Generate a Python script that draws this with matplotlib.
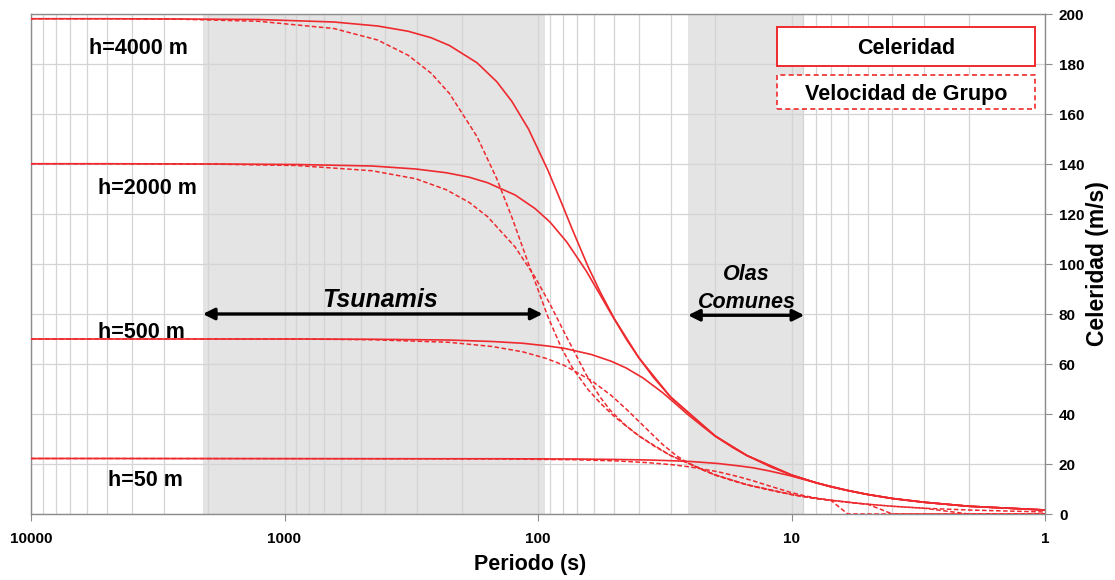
import matplotlib
matplotlib.use('Agg')
import matplotlib.pyplot as plt
from matplotlib.patches import Rectangle
from matplotlib.ticker import FixedLocator, NullFormatter

plt.rcParams['font.family'] = ['Liberation Sans', 'DejaVu Sans']
plt.rcParams['font.weight'] = 'bold'

# periodo (s), celeridad y velocidad de grupo (m/s) para cada profundidad
T_4000 = [10000, 5000, 2538, 1271, 638.6, 429.2, 325.4, 263.9, 223.5, 174.1, 145.4, 126.9, 108.9, 91.4,
          80.8, 73.4, 63.5, 56.7, 50, 40, 30, 20, 15, 10, 9, 8, 7, 6, 5, 4, 3, 2, 1]
C_4000 = [198.1, 198.1, 198.0, 197.8, 196.8, 195.2, 193.1, 190.5, 187.4, 180.5, 172.9, 165.1, 153.9, 137.5,
          124.5, 114.1, 99.0, 88.6, 78.1, 62.5, 46.8, 31.2, 23.4, 15.6, 14.1, 12.5, 10.9, 9.4, 7.8, 6.2, 4.7, 3.1, 1.6]
G_4000 = [198.1, 198.1, 197.9, 197.1, 194.2, 189.6, 183.5, 176.3, 168.2, 151.0, 134.1, 118.8, 100.0, 78.9,
          66.4, 58.7, 49.8, 44.3, 39.0, 31.2, 23.4, 15.6, 11.7, 7.8, 7.0, 6.2, 5.5, 0, 0, 0, 0, 0, 0]

T_2000 = [10000, 5000, 1795, 898.6, 451.5, 303.5, 230.1, 186.6, 158.0, 123.1, 102.8, 89.7, 77.0, 64.6,
          57.1, 51.9, 44.9, 40.1, 35, 30, 20, 15, 10, 8, 7, 6, 5, 4, 3, 2, 1]
C_2000 = [140.1, 140.1, 140.0, 139.8, 139.2, 138.0, 136.5, 134.7, 132.5, 127.6, 122.2, 116.8, 108.8, 97.3,
          88.0, 80.7, 70.0, 62.6, 54.6, 46.8, 31.2, 23.4, 15.6, 12.5, 10.9, 9.4, 7.8, 6.2, 4.7, 3.1, 1.6]
G_2000 = [140.1, 140.1, 139.9, 139.4, 137.3, 134.1, 129.7, 124.6, 118.9, 106.8, 94.8, 84.0, 70.7, 55.8,
          47.0, 41.5, 35.2, 31.4, 27.3, 23.4, 15.6, 11.7, 7.8, 6.2, 5.5, 4.7, 3.9, 0, 0, 0, 0]

T_500 = [10000, 5000, 897.5, 449.3, 225.8, 151.7, 115.1, 93.3, 79.0, 61.6, 51.4, 44.9, 38.5, 32.3,
         28.6, 26.0, 22.4, 20.1, 17, 15, 12, 10, 8, 6, 5, 4, 3, 2, 1]
C_500 = [70.0, 70.0, 70.0, 69.9, 69.6, 69.0, 68.3, 67.3, 66.3, 63.8, 61.1, 58.4, 54.4, 48.6,
         44.0, 40.3, 35.0, 31.3, 26.5, 23.4, 18.7, 15.6, 12.5, 9.4, 7.8, 6.2, 4.7, 3.1, 1.6]
G_500 = [70.0, 70.0, 70.0, 69.7, 68.7, 67.0, 64.9, 62.3, 59.5, 53.4, 47.4, 42.0, 35.4, 27.9,
         23.5, 20.8, 17.6, 15.7, 13.3, 11.7, 9.4, 7.8, 6.2, 4.7, 3.9, 3.1, 2.3, 0, 0]

T_50 = [10000, 5000, 283.8, 142.1, 71.4, 48.0, 36.4, 29.5, 25.0, 19.5, 16.3, 14.2, 12.2, 10.2,
        9.0, 8.2, 7.1, 6.3, 5.5, 5, 4, 3, 2, 1]
C_50 = [22.2, 22.2, 22.1, 22.1, 22.0, 21.8, 21.6, 21.3, 21.0, 20.2, 19.3, 18.5, 17.2, 15.4,
        13.9, 12.8, 11.1, 9.9, 8.6, 7.8, 6.2, 4.7, 3.1, 1.6]
G_50 = [22.2, 22.2, 22.1, 22.0, 21.7, 21.2, 20.5, 19.7, 18.8, 16.9, 15.0, 13.3, 11.2, 8.8,
        7.4, 6.6, 5.6, 5.0, 4.3, 3.9, 3.1, 2.3, 1.6, 0.8]

depth_labels = ['h=4000 m', 'h=2000 m', 'h=500 m', 'h=50 m']
series = [(T_4000, C_4000, G_4000), (T_2000, C_2000, G_2000),
          (T_500, C_500, G_500), (T_50, C_50, G_50)]

tsunami_band = (2100, 94)
olas_band = (25.6, 8.9)

fig = plt.figure(figsize=(11.15, 5.8), dpi=100)
ax = fig.add_axes([31 / 1115, 66 / 580, 1014 / 1115, 500 / 580])
ax.set_xscale('log')
ax.set_xlim(10000, 1)
ax.set_ylim(0, 200)

# bandas grises
ax.axvspan(*tsunami_band, color='#e4e4e4', zorder=0.2, lw=0)
ax.axvspan(*olas_band, color='#e4e4e4', zorder=0.2, lw=0)

red = '#ee2a2e'
for T, c, g in series:
    ax.plot(T, c, color=red, lw=1.2, zorder=3)
    ax.plot(T, g, color=red, lw=1.1, ls=(0, (3, 1.6)), zorder=3)

# rejilla
ax.xaxis.set_major_locator(FixedLocator([10000, 1000, 100, 10, 1]))
ax.set_xticklabels(['10000', '1000', '100', '10', '1'])
minors = [m * 10 ** e for e in range(0, 4) for m in range(2, 10)]
ax.xaxis.set_minor_locator(FixedLocator(minors))
ax.xaxis.set_minor_formatter(NullFormatter())
ax.set_yticks(range(0, 201, 20))
ax.set_axisbelow(True)
ax.grid(True, which='both', axis='x', color='#d4d4d4', lw=0.9)
ax.grid(True, which='major', axis='y', color='#d4d4d4', lw=0.9)

ax.yaxis.tick_right()
ax.yaxis.set_label_position('right')
for s in ax.spines.values():
    s.set_color('#8c8c8c')
    s.set_linewidth(1.0)
ax.tick_params(axis='y', which='both', direction='out', length=5, color='#8c8c8c', pad=5, labelsize=11)
ax.tick_params(axis='x', which='major', direction='out', length=5, color='#8c8c8c', pad=8, labelsize=11)
ax.tick_params(axis='x', which='minor', length=0)
for lab in ax.get_xticklabels() + ax.get_yticklabels():
    lab.set_fontweight('bold')

ax.set_xlabel('Periodo (s)', fontsize=15.5, fontweight='bold')
ax.set_ylabel('Celeridad (m/s)', fontsize=16.5, fontweight='bold')
ax.xaxis.set_label_coords(0.492, -0.080)
ax.yaxis.set_label_coords(1.0404, 0.5)

# etiquetas de profundidad
label_pos = [(0.1055, 0.932), (0.1144, 0.650), (0.1085, 0.362), (0.1129, 0.068)]
for txt, (xf, yf) in zip(depth_labels, label_pos):
    ax.text(xf, yf, txt, transform=ax.transAxes, ha='center', va='center',
            fontsize=15.5, fontweight='bold', zorder=5)

# flechas
arrow = dict(arrowstyle='<|-|>', color='black', lw=2.4, mutation_scale=17, shrinkA=0, shrinkB=0)
ax.annotate('', xy=(tsunami_band[1] * 1.02, 80), xytext=(tsunami_band[0], 80), arrowprops=arrow, zorder=5)
ax.annotate('', xy=(olas_band[1], 79.5), xytext=(olas_band[0], 79.5), arrowprops=arrow, zorder=5)
ax.text(0.3442, 0.428, 'Tsunamis', transform=ax.transAxes, ha='center', va='center',
        fontsize=18, fontweight='bold', style='italic', zorder=5)
ax.text(0.7055, 0.478, 'Olas', transform=ax.transAxes, ha='center', va='center',
        fontsize=15.5, fontweight='bold', style='italic', zorder=5)
ax.text(0.7065, 0.424, 'Comunes', transform=ax.transAxes, ha='center', va='center',
        fontsize=15.5, fontweight='bold', style='italic', zorder=5)

# leyenda como cajas
ax.add_patch(Rectangle((0.7357, 0.896), 0.2544, 0.078, transform=ax.transAxes,
                       facecolor='white', edgecolor=red, lw=1.4, zorder=6))
ax.add_patch(Rectangle((0.7357, 0.810), 0.2544, 0.068, transform=ax.transAxes,
                       facecolor='white', edgecolor=red, lw=1.2, ls=(0, (3, 2)), zorder=6))
ax.text(0.8629, 0.932, 'Celeridad', transform=ax.transAxes, ha='center', va='center',
        fontsize=15.5, fontweight='bold', zorder=7)
ax.text(0.8629, 0.839, 'Velocidad de Grupo', transform=ax.transAxes, ha='center', va='center',
        fontsize=15.5, fontweight='bold', zorder=7)

fig.savefig('out.png', dpi=100)
